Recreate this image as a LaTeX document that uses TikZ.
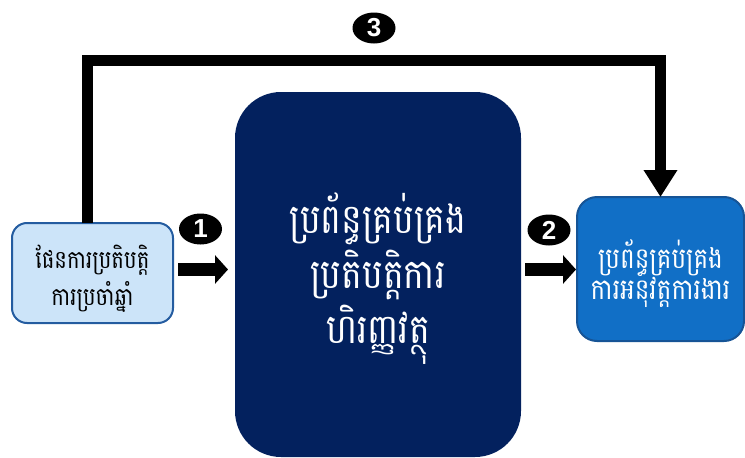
\documentclass[tikz,border=0pt]{standalone}
\usepackage{fontspec}
\usetikzlibrary{arrows.meta,shapes.geometric}
\newfontfamily\khmerfont[Script=Khmer,FakeStretch=0.85]{Battambang}
\newfontfamily\numfont{Liberation Sans}

\definecolor{planfill}{RGB}{204,228,249}
\definecolor{planline}{RGB}{36,92,160}
\definecolor{navy}{RGB}{3,33,94}
\definecolor{perffill}{RGB}{17,111,198}
\definecolor{perfline}{RGB}{22,84,150}

\tikzset{
  box/.style={rounded corners=#1, inner sep=0pt, outer sep=0pt},
  caption/.style={inner sep=0pt, align=center},
  flow/.style={line width=11pt, -{Triangle[width=32pt,length=27pt]}},
  blockarrow/.style={line width=13pt, -{Triangle[width=28pt,length=13pt]}},
  badge/.style={ellipse, fill=black, inner sep=0pt, minimum width=43pt,
    minimum height=31pt, text=white, font=\numfont\bfseries\fontsize{26}{26}\selectfont}
}

\begin{document}
\begin{tikzpicture}[x=1pt,y=-1pt]
\useasboundingbox (0,0) rectangle (745,458);

% annual operating plan
\node[box=15pt, draw=planline, line width=2pt, fill=planfill,
      minimum width=161pt, minimum height=100pt] (plan) at (92.5,273) {};
\node[caption, font=\khmerfont\fontsize{25}{37}\selectfont]
  (plantext) at ([yshift=-6pt]plan.center) {ផែនការប្រតិបត្តិ\\ការប្រចាំឆ្នាំ};

% financial operations management system
\node[box=46pt, fill=navy, minimum width=286pt, minimum height=365pt]
  (fin) at (378,274.5) {};
\node[caption, text=white, font=\khmerfont\fontsize{41}{55}\selectfont]
  (fintext) at ([yshift=-4pt]fin.center) {ប្រព័ន្ធគ្រប់គ្រង\\ប្រតិបត្តិការ\\ហិរញ្ញវត្ថុ};

% performance management system
\node[box=20pt, draw=perfline, line width=2pt, fill=perffill,
      minimum width=167pt, minimum height=144pt] (perf) at (660.5,269) {};
\node[caption, text=white, font=\khmerfont\fontsize{29}{31}\selectfont]
  (perftext) at ([yshift=-5pt]perf.center) {ប្រព័ន្ធគ្រប់គ្រង\\ការអនុវត្តការងារ};

% feedback line over the top
\coordinate (up) at (87.5,60.5);
\draw[flow] (plan.north -| up) -- (up) -- (up -| perf.north) -- (perf.north);

% forward arrows
\coordinate (a1) at (0,269.5);
\draw[blockarrow, shorten <=5pt, shorten >=7pt] (plan.east |- a1) -- (fin.west |- a1);
\draw[blockarrow, shorten <=4pt, shorten >=1pt] (fin.east |- a1) -- (perf.west |- a1);

% step numbers
\node[badge] (n1) at (200.5,229) {1};
\node[badge] (n2) at (549,230) {2};
\node[badge] (n3) at (374,28) {3};
\end{tikzpicture}
\end{document}
